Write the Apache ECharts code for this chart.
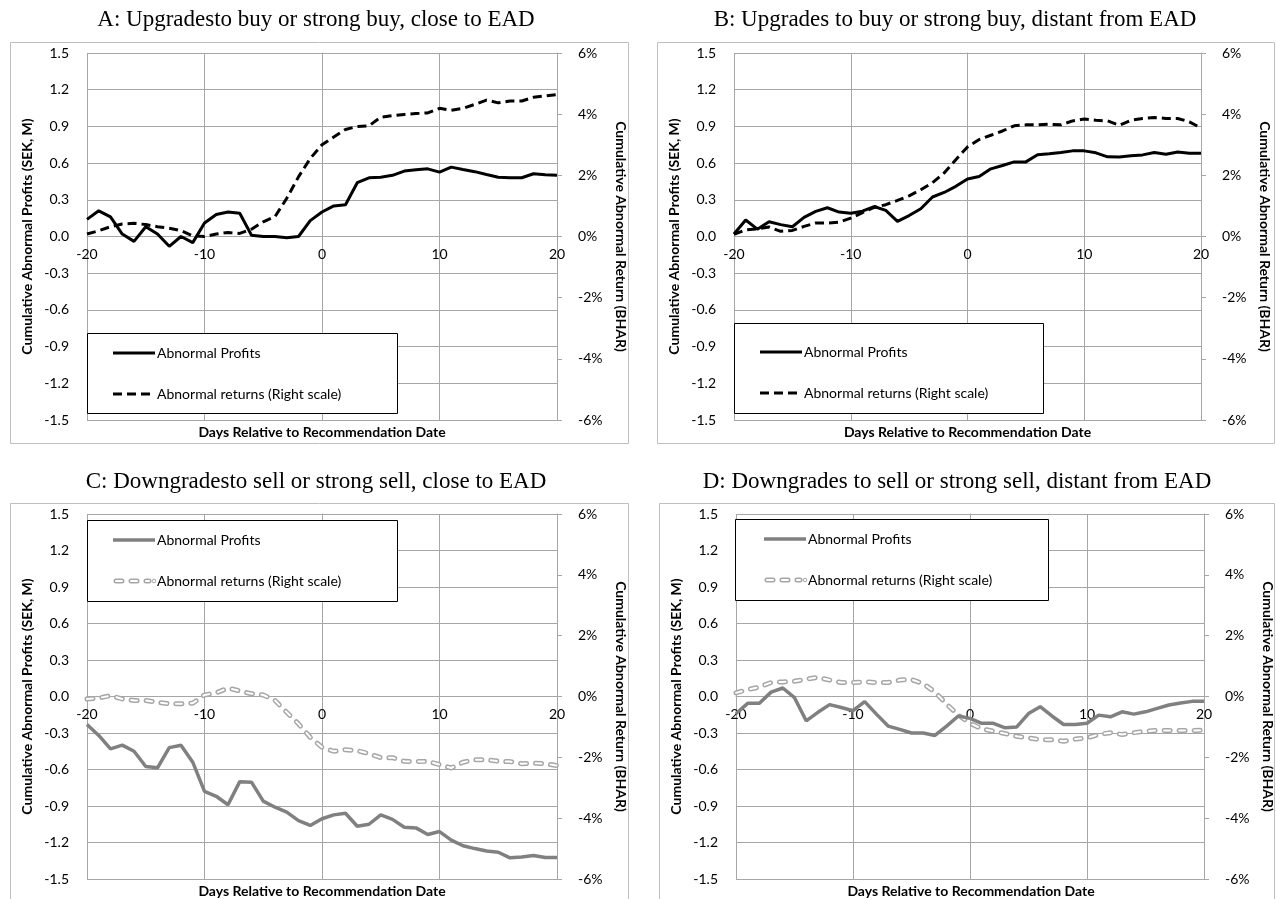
<!DOCTYPE html>
<html><head><meta charset="utf-8">
<script src="https://cdn.jsdelivr.net/npm/echarts@6/dist/echarts.min.js"></script>
<style>html,body{margin:0;padding:0;background:#fff}#c{width:1276px;height:899px}</style>
</head><body><div id="c"></div>
<script>
// ---------- data ----------
const days = [-20,-19,-18,-17,-16,-15,-14,-13,-12,-11,-10,-9,-8,-7,-6,-5,-4,-3,-2,-1,0,1,2,3,4,5,6,7,8,9,10,11,12,13,14,15,16,17,18,19,20];
const xTicks = [-20,-10,0,10,20];

const titles = [
  'A: Upgradesto buy or strong buy, close to EAD',
  'B: Upgrades to buy or strong buy, distant from EAD',
  'C: Downgradesto sell or strong sell, close to EAD',
  'D: Downgrades to sell or strong sell, distant from EAD'
];
const seriesNames = ['Abnormal Profits', 'Abnormal returns (Right scale)'];
const leftAxisName = 'Cumulative Abnormal Profits (SEK, M)';
const rightAxisName = 'Cumulative Abnormal Return (BHAR)';
const xAxisName = 'Days Relative to Recommendation Date';

// Abnormal profits (SEK, M) - left scale
const A_profits = [0.14,0.21,0.16,0.02,-0.04,0.08,0.02,-0.08,0.00,-0.05,0.11,0.18,0.20,0.19,0.01,0.00,0.00,-0.01,0.00,0.13,0.20,0.25,0.26,0.44,0.48,0.485,0.50,0.535,0.545,0.553,0.526,0.567,0.548,0.53,0.507,0.485,0.48,0.48,0.513,0.505,0.50];
const B_profits = [0.02,0.135,0.06,0.12,0.097,0.08,0.157,0.205,0.235,0.20,0.19,0.207,0.245,0.213,0.124,0.171,0.227,0.323,0.36,0.41,0.47,0.49,0.553,0.58,0.61,0.61,0.668,0.676,0.687,0.70,0.70,0.684,0.651,0.65,0.66,0.667,0.686,0.673,0.69,0.68,0.68];
const C_profits = [-0.23,-0.32,-0.43,-0.40,-0.45,-0.575,-0.586,-0.42,-0.40,-0.54,-0.78,-0.82,-0.89,-0.70,-0.704,-0.86,-0.91,-0.95,-1.02,-1.06,-1.005,-0.973,-0.96,-1.066,-1.05,-0.973,-1.01,-1.074,-1.08,-1.134,-1.11,-1.18,-1.227,-1.25,-1.27,-1.28,-1.326,-1.32,-1.307,-1.323,-1.323];
const D_profits = [-0.14,-0.056,-0.056,0.036,0.07,-0.01,-0.20,-0.13,-0.067,-0.09,-0.117,-0.042,-0.145,-0.243,-0.27,-0.30,-0.30,-0.32,-0.243,-0.16,-0.18,-0.22,-0.22,-0.257,-0.25,-0.14,-0.084,-0.16,-0.23,-0.23,-0.22,-0.153,-0.167,-0.126,-0.145,-0.126,-0.098,-0.07,-0.053,-0.04,-0.04];

// Abnormal returns (BHAR, %) - right scale
const A_returns = [0.08,0.19,0.32,0.41,0.43,0.39,0.32,0.27,0.19,0.02,0.00,0.08,0.13,0.10,0.24,0.48,0.65,1.25,1.95,2.55,3.00,3.25,3.50,3.60,3.62,3.90,3.95,3.99,4.02,4.04,4.19,4.13,4.19,4.32,4.46,4.37,4.43,4.43,4.55,4.60,4.64];
const B_returns = [0.07,0.22,0.25,0.31,0.17,0.20,0.33,0.44,0.44,0.47,0.60,0.78,0.95,1.04,1.18,1.33,1.53,1.76,2.08,2.51,2.93,3.17,3.31,3.45,3.62,3.65,3.65,3.67,3.65,3.78,3.84,3.80,3.78,3.64,3.80,3.86,3.89,3.86,3.86,3.75,3.55];
const C_returns = [-0.08,-0.05,0.03,-0.08,-0.13,-0.13,-0.19,-0.24,-0.24,-0.22,0.05,0.12,0.28,0.18,0.09,0.05,-0.13,-0.52,-0.90,-1.34,-1.67,-1.80,-1.75,-1.78,-1.88,-2.01,-2.01,-2.13,-2.14,-2.13,-2.24,-2.35,-2.16,-2.08,-2.08,-2.13,-2.14,-2.21,-2.19,-2.21,-2.27];
const D_returns = [0.12,0.23,0.31,0.46,0.48,0.50,0.57,0.63,0.54,0.46,0.46,0.48,0.46,0.46,0.54,0.56,0.42,0.15,-0.25,-0.61,-0.88,-1.06,-1.14,-1.22,-1.31,-1.36,-1.42,-1.42,-1.47,-1.40,-1.36,-1.25,-1.19,-1.25,-1.19,-1.14,-1.11,-1.12,-1.12,-1.12,-1.11];

const leftTicks = [-1.5,-1.2,-0.9,-0.6,-0.3,0,0.3,0.6,0.9,1.2,1.5];
const rightTicks = [-6,-4,-2,0,2,4,6];

// ---------- layout & style ----------
const FONT = 'Lato, "Open Sans", sans-serif';
const SERIF = '"Liberation Serif", "Times New Roman", serif';
const GRID = '#a6a6a6';
const panels = [
  {profits:A_profits, returns:A_returns, gray:false,
   grid:{left:87, top:53, width:470, height:367}, frame:{x:10,y:42,w:618,h:401}, titleX:316, titleY:20, xTitleY:432,
   legend:{x:87,y:333,w:310,h:80,r1:353,r2:394,lx:113}},
  {profits:B_profits, returns:B_returns, gray:false,
   grid:{left:734, top:53, width:467, height:367}, frame:{x:657,y:42,w:617,h:401}, titleX:955, titleY:20, xTitleY:432,
   legend:{x:734,y:323,w:309,h:90,r1:352,r2:393,lx:760}},
  {profits:C_profits, returns:C_returns, gray:true,
   grid:{left:87, top:514, width:470, height:365}, frame:{x:10,y:503,w:618,h:420}, titleX:316, titleY:482, xTitleY:891,
   legend:{x:87,y:520,w:310,h:81,r1:540,r2:581,lx:113}},
  {profits:D_profits, returns:D_returns, gray:true,
   grid:{left:736, top:514, width:470, height:365}, frame:{x:659,y:503,w:615,h:420}, titleX:957, titleY:482, xTitleY:891,
   legend:{x:735,y:519,w:313,h:81,r1:539,r2:580,lx:764}}
];

const grids = [], xAxes = [], yAxes = [], series = [], graphics = [];

panels.forEach((p, i) => {
  grids.push(Object.assign({containLabel:false}, p.grid));
  xAxes.push({
    type:'value', gridIndex:i, position:'bottom', offset:-p.grid.height/2,
    min:xTicks[0], max:xTicks[xTicks.length-1], interval:10,
    axisLine:{show:true, onZero:false, lineStyle:{color:GRID, width:1}},
    axisTick:{show:false},
    axisLabel:{fontSize:14, color:'#000', fontFamily:FONT, margin:11},
    splitLine:{show:true, lineStyle:{color:GRID, width:1}}
  });
  yAxes.push({
    type:'value', gridIndex:i, position:'left',
    min:leftTicks[0], max:leftTicks[leftTicks.length-1], interval:0.3,
    axisLine:{show:true, lineStyle:{color:GRID}}, axisTick:{show:false},
    axisLabel:{fontSize:14, color:'#000', fontFamily:FONT, margin:18, formatter:v => v.toFixed(1)},
    splitLine:{show:true, lineStyle:{color:GRID, width:1}},
    name:leftAxisName, nameLocation:'middle', nameGap:53,
    nameTextStyle:{fontSize:14, fontWeight:'bold', fontFamily:FONT, color:'#000'}
  });
  yAxes.push({
    type:'value', gridIndex:i, position:'right',
    min:rightTicks[0], max:rightTicks[rightTicks.length-1], interval:2,
    axisLine:{show:true, lineStyle:{color:GRID}},
    axisTick:{show:true, inside:false, length:5, lineStyle:{color:GRID}},
    axisLabel:{fontSize:14, color:'#000', fontFamily:FONT, margin:21, formatter:'{value}%'},
    splitLine:{show:false},
    name:rightAxisName, nameLocation:'middle', nameGap:57, nameRotate:-90,
    nameTextStyle:{fontSize:14, fontWeight:'bold', fontFamily:FONT, color:'#000'}
  });

  const profData = days.map((d, k) => [d, p.profits[k]]);
  const retData = days.map((d, k) => [d, p.returns[k]]);
  if (!p.gray) {
    series.push({name:seriesNames[1], type:'line', xAxisIndex:i, yAxisIndex:2*i+1, data:retData,
      symbol:'none', z:3, lineStyle:{color:'#000', width:3, type:[9,5]}});
    series.push({name:seriesNames[0], type:'line', xAxisIndex:i, yAxisIndex:2*i, data:profData,
      symbol:'none', z:4, lineStyle:{color:'#000', width:3}});
  } else {
    series.push({name:seriesNames[1], type:'line', xAxisIndex:i, yAxisIndex:2*i+1, data:retData,
      symbol:'none', z:3, lineStyle:{color:'#a6a6a6', width:5, type:[6,9], cap:'round'}});
    series.push({name:seriesNames[1] + ' ', type:'line', xAxisIndex:i, yAxisIndex:2*i+1, data:retData,
      symbol:'none', z:3, lineStyle:{color:'#ffffff', width:2, type:[6,9], cap:'round'}});
    series.push({name:seriesNames[0], type:'line', xAxisIndex:i, yAxisIndex:2*i, data:profData,
      symbol:'none', z:4, lineStyle:{color:'#808080', width:3.5}});
  }

  // frame
  graphics.push({type:'rect', z:0, silent:true, shape:{x:p.frame.x+0.5, y:p.frame.y+0.5, width:p.frame.w, height:p.frame.h},
    style:{fill:null, stroke:'#bfbfbf', lineWidth:1}});
  // title
  graphics.push({type:'text', z:10, x:p.titleX, y:p.titleY,
    style:{text:titles[i], font:'23px ' + SERIF, fill:'#000', textAlign:'center', textVerticalAlign:'middle'}});
  // x axis title
  graphics.push({type:'text', z:10, x:p.grid.left + p.grid.width/2, y:p.xTitleY,
    style:{text:xAxisName, font:'bold 14px ' + FONT, fill:'#000', textAlign:'center', textVerticalAlign:'middle'}});
  // legend
  const L = p.legend;
  graphics.push({type:'rect', z:50, shape:{x:L.x+0.5, y:L.y+0.5, width:L.w, height:L.h},
    style:{fill:'#fff', stroke:'#000', lineWidth:1}});
  const col = p.gray ? '#808080' : '#000';
  graphics.push({type:'line', z:51, shape:{x1:L.lx, y1:L.r1, x2:L.lx+42, y2:L.r1}, style:{stroke:col, lineWidth:p.gray?3.5:3}});
  graphics.push({type:'text', z:51, x:L.lx+44, y:L.r1, style:{text:seriesNames[0], font:'14px ' + FONT, fill:'#000', textVerticalAlign:'middle'}});
  if (!p.gray) {
    graphics.push({type:'line', z:51, shape:{x1:L.lx, y1:L.r2, x2:L.lx+42, y2:L.r2}, style:{stroke:'#000', lineWidth:3, lineDash:[9,5]}});
  } else {
    graphics.push({type:'line', z:51, shape:{x1:L.lx+3, y1:L.r2, x2:L.lx+36, y2:L.r2}, style:{stroke:'#a6a6a6', lineWidth:5, lineDash:[6,9], lineCap:'round'}});
    graphics.push({type:'line', z:52, shape:{x1:L.lx+3, y1:L.r2, x2:L.lx+36, y2:L.r2}, style:{stroke:'#fff', lineWidth:2, lineDash:[6,9], lineCap:'round'}});
    graphics.push({type:'circle', z:52, shape:{cx:L.lx+41, cy:L.r2, r:1.8}, style:{fill:'#fff', stroke:'#a6a6a6', lineWidth:1}});
  }
  graphics.push({type:'text', z:51, x:L.lx+44, y:L.r2, style:{text:seriesNames[1], font:'14px ' + FONT, fill:'#000', textVerticalAlign:'middle'}});
});

const chart = echarts.init(document.getElementById('c'), null, {renderer:'canvas'});
chart.setOption({
  animation:false,
  backgroundColor:'#fff',
  textStyle:{fontFamily:FONT},
  grid:grids, xAxis:xAxes, yAxis:yAxes, series:series,
  graphic:{elements:graphics}
});
</script></body></html>
